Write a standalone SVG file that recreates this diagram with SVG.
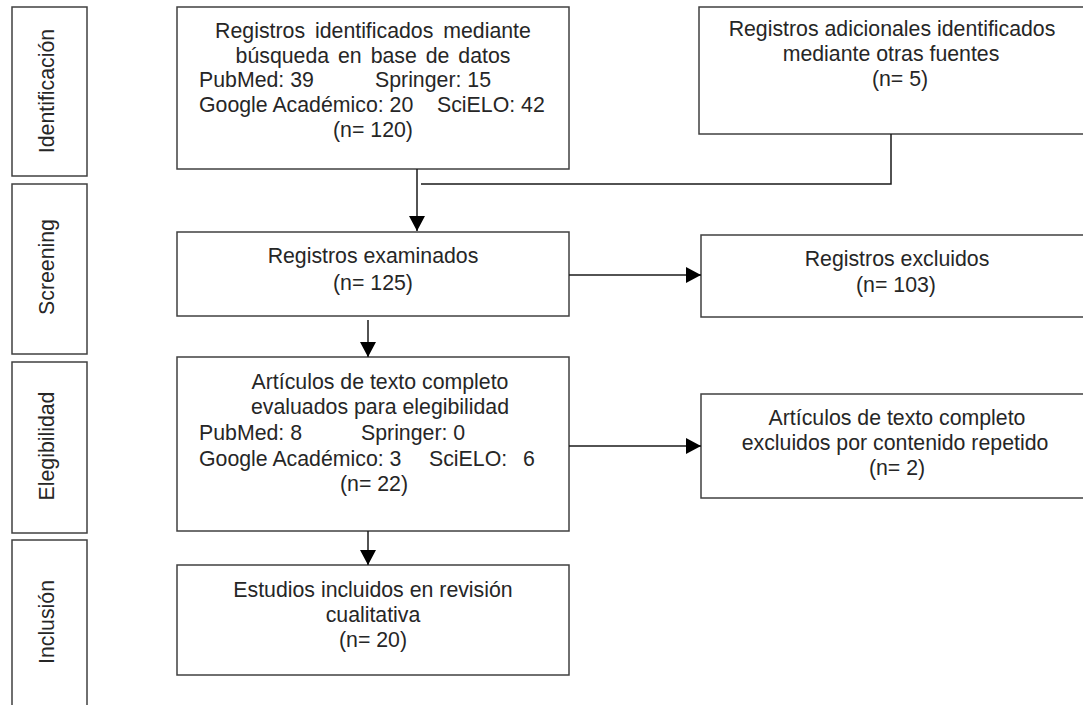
<svg xmlns="http://www.w3.org/2000/svg" width="1083" height="705" viewBox="0 0 1083 705">
<style>
.box{fill:#fff;stroke:#404040;stroke-width:1.5}
.t{font-family:"Liberation Sans",Arial,sans-serif;font-size:21.3px;fill:#262626}
.c{text-anchor:middle}
.ln{fill:none;stroke:#1a1a1a;stroke-width:1.5}
</style>
<defs>
<marker id="ah" markerUnits="userSpaceOnUse" markerWidth="16" markerHeight="18" refX="15" refY="8" orient="auto">
<path d="M0,0 L15,8 L0,16 Z" fill="#000"/>
</marker>
</defs>
<rect width="1083" height="705" fill="#fff"/>
<g id="phase-identificacion">
<rect class="box" x="12" y="7" width="75" height="169"/>
<text class="t c" transform="translate(54,91) rotate(-90)">Identificación</text>
</g>
<g id="phase-screening">
<rect class="box" x="12" y="184" width="75" height="170"/>
<text class="t c" transform="translate(54,267) rotate(-90)">Screening</text>
</g>
<g id="phase-elegibilidad">
<rect class="box" x="12" y="362" width="75" height="171"/>
<text class="t c" transform="translate(54,446) rotate(-90)">Elegibilidad</text>
</g>
<g id="phase-inclusion">
<rect class="box" x="12" y="540" width="75" height="200"/>
<text class="t c" transform="translate(54,622) rotate(-90)">Inclusión</text>
</g>
<g id="box-identificados">
<rect class="box" x="177" y="7" width="392" height="162"/>
<text class="t c" x="373" y="38" word-spacing="4">Registros identificados mediante</text>
<text class="t c" x="373" y="63" word-spacing="3">búsqueda en base de datos</text>
<text class="t" x="199" y="87">PubMed: 39</text>
<text class="t" x="375" y="87">Springer: 15</text>
<text class="t" x="199" y="112">Google Académico: 20</text>
<text class="t" x="437" y="112">SciELO: 42</text>
<text class="t c" x="373" y="137">(n= 120)</text>
</g>
<g id="box-adicionales">
<rect class="box" x="699" y="7" width="392" height="127"/>
<text class="t c" x="892" y="36">Registros adicionales identificados</text>
<text class="t c" x="891" y="61">mediante otras fuentes</text>
<text class="t c" x="900" y="86">(n= 5)</text>
</g>
<g id="box-examinados">
<rect class="box" x="177" y="232" width="392" height="84"/>
<text class="t c" x="373" y="263">Registros examinados</text>
<text class="t c" x="373" y="290">(n= 125)</text>
</g>
<g id="box-excluidos">
<rect class="box" x="701" y="235" width="392" height="82"/>
<text class="t c" x="897" y="266">Registros excluidos</text>
<text class="t c" x="896" y="292">(n= 103)</text>
</g>
<g id="box-evaluados">
<rect class="box" x="177" y="357" width="392" height="174"/>
<text class="t c" x="380" y="389">Artículos de texto completo</text>
<text class="t c" x="380" y="414">evaluados para elegibilidad</text>
<text class="t" x="199" y="440">PubMed: 8</text>
<text class="t" x="361" y="440">Springer: 0</text>
<text class="t" x="199" y="466">Google Académico: 3</text>
<text class="t" x="429" y="466">SciELO:</text>
<text class="t" x="523" y="466">6</text>
<text class="t c" x="374" y="491">(n= 22)</text>
</g>
<g id="box-excluidos-texto">
<rect class="box" x="701" y="394" width="392" height="104"/>
<text class="t c" x="897" y="425">Artículos de texto completo</text>
<text class="t c" x="895" y="450">excluidos por contenido repetido</text>
<text class="t c" x="897" y="475">(n= 2)</text>
</g>
<g id="box-incluidos">
<rect class="box" x="177" y="565" width="392" height="110"/>
<text class="t c" x="373" y="597">Estudios incluidos en revisión</text>
<text class="t c" x="373" y="622">cualitativa</text>
<text class="t c" x="373" y="647">(n= 20)</text>
</g>
<g id="connectors">
<line class="ln" x1="417" y1="169" x2="417" y2="231" marker-end="url(#ah)"/>
<polyline class="ln" points="891,134 891,184 421,184"/>
<line class="ln" x1="569" y1="275" x2="701" y2="275" marker-end="url(#ah)"/>
<line class="ln" x1="368" y1="320" x2="368" y2="357" marker-end="url(#ah)"/>
<line class="ln" x1="569" y1="446" x2="701" y2="446" marker-end="url(#ah)"/>
<line class="ln" x1="368" y1="531" x2="368" y2="565" marker-end="url(#ah)"/>
</g>
</svg>
